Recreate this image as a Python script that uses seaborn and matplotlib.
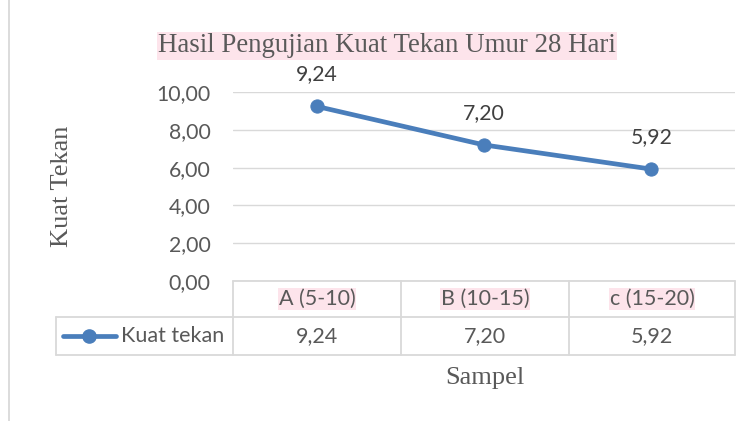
import matplotlib
matplotlib.use('Agg')

import matplotlib.pyplot as plt
from matplotlib.lines import Line2D
import seaborn as sns
import pandas as pd

# data
categories = ['A (5-10)', 'B (10-15)', 'c (15-20)']
kuat_tekan = [9.24, 7.20, 5.92]
y_ticks = [0, 2, 4, 6, 8, 10]
series_name = 'Kuat tekan'

title = 'Hasil Pengujian Kuat Tekan Umur 28 Hari'
x_label = 'Sampel'
y_label = 'Kuat Tekan'

W, H = 754, 421
blue = '#4A7EBB'
grid_c = '#D9D9D9'
text_c = '#595959'
pink = '#FDE4EB'
serif = ['Liberation Serif', 'DejaVu Serif']
sans = ['Lato', 'DejaVu Sans']


def fmt(v):
    return f'{v:.2f}'.replace('.', ',')


def fx(px):
    return px / W


def fy(py):
    return 1 - py / H


sns.set_style('white')
plt.rcParams['font.family'] = sans

fig = plt.figure(figsize=(W / 100, H / 100), dpi=100)
ax = fig.add_axes([fx(233), fy(281), fx(735) - fx(233), (281 - 92) / H])

df = pd.DataFrame({'Sampel': categories, 'Kuat': kuat_tekan})
sns.lineplot(data=df, x='Sampel', y='Kuat', ax=ax, color=blue, linewidth=3.4,
             marker='o', markersize=9.5, markeredgecolor=blue, sort=False)

ax.set_xlim(-0.5, len(categories) - 0.5)
ax.set_ylim(0, 10)
ax.set_yticks(y_ticks)
ax.set_yticklabels([fmt(t) for t in y_ticks], color=text_c, fontsize=15.3)
ax.tick_params(axis='y', length=0, pad=16)
ax.set_xticks([])
ax.set_xlabel('')
ax.set_ylabel('')
ax.grid(axis='y', color=grid_c, linewidth=1)
for s in ax.spines.values():
    s.set_visible(False)

# data labels
for i, v in enumerate(kuat_tekan):
    ax.annotate(fmt(v), (i, v), xytext=(0, 16), textcoords='offset points',
                ha='center', va='bottom', fontsize=15.3, color='#404040',
                annotation_clip=False)

# title and axis titles
fig.text(fx(387), fy(46), title, ha='center', va='center', fontsize=19.4,
         family=serif, color=text_c,
         bbox=dict(facecolor=pink, edgecolor='none', pad=1))
fig.text(fx(62), fy(186), y_label, ha='center', va='center', rotation=90,
         fontsize=19, family=serif, color=text_c)
fig.text(fx(485), fy(378), x_label, ha='center', va='center', fontsize=19,
         family=serif, color=text_c)

# data table
col_edges = [233, 401, 569, 735]
r_top, r_mid, r_bot = 281, 317, 355


def hline(x0, x1, y):
    fig.add_artist(Line2D([fx(x0), fx(x1)], [fy(y), fy(y)], color=grid_c, lw=1.3))


def vline(x, y0, y1):
    fig.add_artist(Line2D([fx(x), fx(x)], [fy(y0), fy(y1)], color=grid_c, lw=1.3))


hline(233, 735, r_top)
hline(56, 735, r_mid)
hline(56, 735, r_bot)
for x in col_edges:
    vline(x, r_top, r_bot)
vline(56, r_mid, r_bot)

for i, (cat, v) in enumerate(zip(categories, kuat_tekan)):
    cx = (col_edges[i] + col_edges[i + 1]) / 2
    fig.text(fx(cx), fy((r_top + r_mid) / 2), cat, ha='center', va='center',
             fontsize=15.5, color=text_c,
             bbox=dict(facecolor=pink, edgecolor='none', pad=0.5))
    fig.text(fx(cx), fy((r_mid + r_bot) / 2), fmt(v), ha='center', va='center',
             fontsize=15.5, color=text_c)

# legend key in table
ly = (r_mid + r_bot) / 2
fig.add_artist(Line2D([fx(63), fx(116)], [fy(ly), fy(ly)], color=blue, lw=3.4,
                      solid_capstyle='round'))
fig.add_artist(Line2D([fx(89)], [fy(ly)], color=blue, marker='o', markersize=9.5))
fig.text(fx(121), fy(ly), series_name, ha='left', va='center', fontsize=15.5,
         color=text_c)

# chart border on the left
fig.add_artist(Line2D([fx(9), fx(9)], [0, 1], color=grid_c, lw=1.3))

fig.savefig('out.png', dpi=100)
